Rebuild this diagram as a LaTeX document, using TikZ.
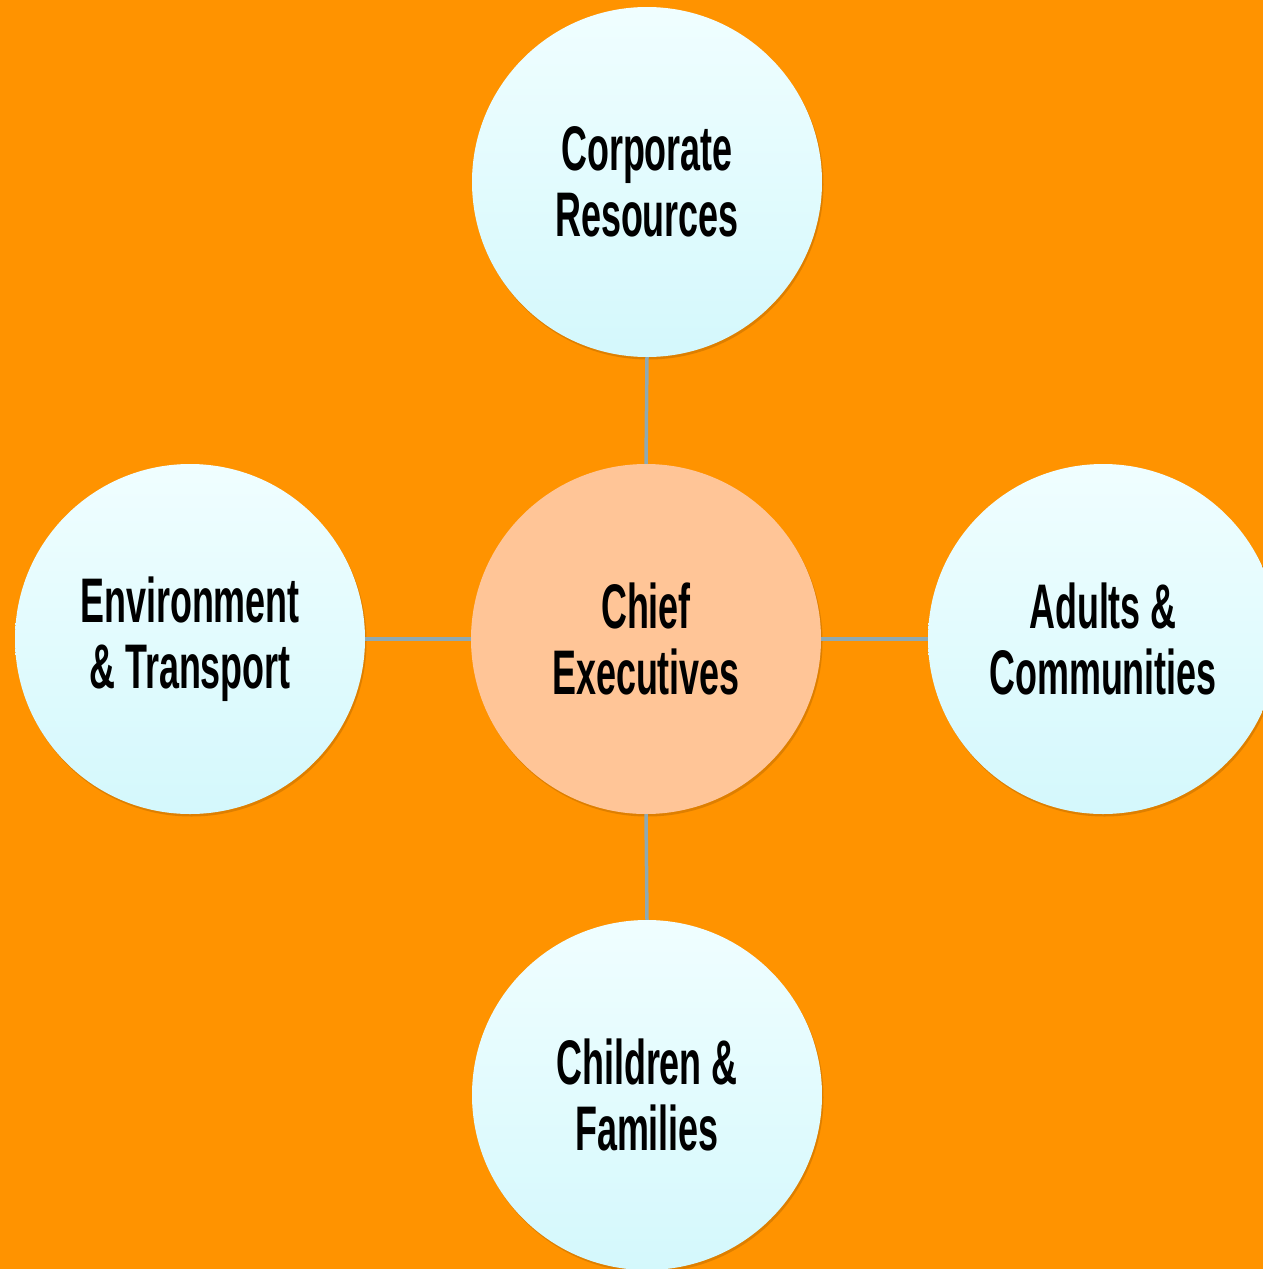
\documentclass[tikz,border=0pt]{standalone}
\usepackage{fontspec}
\newfontfamily\condfont[FakeStretch=0.57]{Liberation Sans}
\usetikzlibrary{shadows}
\definecolor{bgorange}{HTML}{FF9300}
\definecolor{peach}{HTML}{FFC597}
\definecolor{cyantop}{HTML}{F0FEFF}
\definecolor{cyanbot}{HTML}{D4F8FC}
\definecolor{linkgray}{HTML}{8FA9B2}
\tikzset{
  bubble/.style={circle, minimum size=350pt, inner sep=0pt, align=center,
    font=\condfont\bfseries\fontsize{63}{66}\selectfont,
    drop shadow={opacity=0.18, shadow xshift=1.5pt, shadow yshift=-2.5pt, fill=black!70!orange}},
  unit/.style={bubble, top color=cyantop, bottom color=cyanbot},
  hub/.style={bubble, fill=peach},
  link/.style={draw=linkgray, line width=3.5pt}
}
\begin{document}
\begin{tikzpicture}[x=1pt, y=-1pt]
\useasboundingbox (0,0) rectangle (1263,1269);
\clip (0,0) rectangle (1263,1269);
\fill[bgorange] (0,0) rectangle (1263,1269);
\node[hub]  (chief) at (646,639) {Chief\\Executives};
\node[unit] (corp)  at (647,182) {Corporate\\Resources};
\node[unit] (env)   at (190,639) {Environment\\\& Transport};
\node[unit] (adult) at (1103,639) {Adults \&\\Communities};
\node[unit] (child) at (647,1095) {Children \&\\Families};
\draw[link] (corp.south) -- (chief.north);
\draw[link] (chief.south) -- (child.north);
\draw[link] (env.east) -- (chief.west);
\draw[link] (chief.east) -- (adult.west);
\end{tikzpicture}
\end{document}
